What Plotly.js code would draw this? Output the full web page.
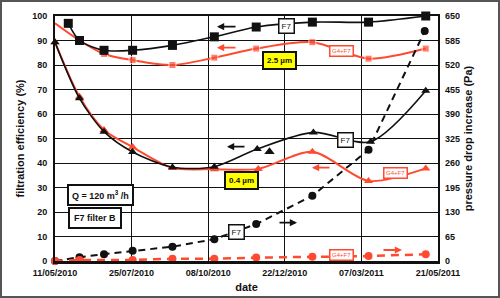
<!DOCTYPE html>
<html>
<head>
<meta charset="utf-8">
<script src="https://cdn.plot.ly/plotly-3.0.1.min.js"></script>
<style>
html,body{margin:0;padding:0;background:#fff;}
#wrap{position:relative;width:500px;height:298px;}
#frame{position:absolute;left:0;top:0;width:496px;height:294px;border:2px solid #555;pointer-events:none;}
</style>
</head>
<body>
<div id="wrap"><div id="chart" style="width:500px;height:298px;"></div><div id="frame"></div></div>
<script>
// ---- data ----
const f7CoarseDates = ['2010-05-24','2010-06-04','2010-06-28','2010-07-26','2010-09-03','2010-10-14','2010-11-24','2011-01-18','2011-03-14','2011-05-09'];
const f7CoarseEff   = [97, 90, 86, 86, 88, 91.5, 95.5, 97.5, 97.5, 100];

const g4CoarseDates = ['2010-05-11','2010-06-04','2010-06-28','2010-07-26','2010-09-03','2010-10-14','2010-11-24','2011-01-18','2011-03-14','2011-05-09'];
const g4CoarseEff   = [97, 90, 84.5, 82, 80, 83, 86.7, 89.3, 82.6, 86.7];

const f7FineDates = ['2010-05-11','2010-06-04','2010-06-28','2010-07-26','2010-09-03','2010-10-14','2010-11-25','2011-01-19','2011-03-16','2011-05-09'];
const f7FineEff   = [89.3, 66.4, 52.8, 44.5, 38.3, 38.5, 45.7, 52.5, 48.7, 69.5];
const f7FineExtraDates = ['2010-12-07'];
const f7FineExtraEff   = [44.6];

const g4FineDates = ['2010-05-11','2010-06-04','2010-06-28','2010-07-26','2010-09-03','2010-10-14','2010-11-26','2011-01-18','2011-03-14','2011-05-09'];
const g4FineEff   = [89.3, 67, 53.5, 46.5, 38, 37.5, 37.6, 44.6, 32.7, 37.8];

const f7DpDates = ['2010-05-11','2010-06-04','2010-06-28','2010-07-26','2010-09-03','2010-10-14','2010-11-24','2011-01-18','2011-03-14','2011-05-08'];
const f7Dp      = [0, 10, 18, 27, 38, 58, 98, 173, 295, 610];

const g4DpDates = ['2010-05-11','2010-06-04','2010-07-26','2010-09-03','2010-10-14','2010-11-24','2011-01-18','2011-03-14','2011-05-09'];
const g4Dp      = [0, 2.6, 2.6, 6, 6, 9, 11, 13, 18];

const xTickStart = '2010-05-11';
const xRange = ['2010-05-11','2011-05-21'];

// ---- style ----
const BLACK = '#111111';
const RED = '#ff4a30';
const FONT = 'Liberation Sans, Arial, sans-serif';

const traces = [
  {x: g4CoarseDates, y: g4CoarseEff, mode:'lines+markers', line:{color:RED,width:2,shape:'spline',smoothing:0.8},
   marker:{symbol:'square',color:RED,size:g4CoarseEff.map((v,i)=>i===0?0:7)}, yaxis:'y', cliponaxis:false},
  {x: f7CoarseDates, y: f7CoarseEff, mode:'lines+markers', line:{color:BLACK,width:1.6,shape:'spline',smoothing:0.8},
   marker:{symbol:'square',color:BLACK,size:9}, yaxis:'y', cliponaxis:false},
  {x: g4FineDates, y: g4FineEff, mode:'lines+markers', line:{color:RED,width:2,shape:'spline',smoothing:0.8},
   marker:{symbol:'triangle-up',color:RED,size:8}, yaxis:'y', cliponaxis:false},
  {x: f7FineDates, y: f7FineEff, mode:'lines+markers', line:{color:BLACK,width:1.6,shape:'spline',smoothing:0.8},
   marker:{symbol:'triangle-up',color:BLACK,size:8}, yaxis:'y', cliponaxis:false},
  {x: f7FineExtraDates, y: f7FineExtraEff, mode:'markers', marker:{symbol:'triangle-up',color:BLACK,size:9}, yaxis:'y'},
  {x: f7DpDates, y: f7Dp, mode:'lines+markers', line:{color:BLACK,width:2,dash:'7px,5px'},
   marker:{symbol:'circle',color:BLACK,size:8}, yaxis:'y2', cliponaxis:false},
  {x: g4DpDates, y: g4Dp, mode:'lines+markers', line:{color:RED,width:2.5,dash:'8px,6px'},
   marker:{symbol:'circle',color:RED,size:8}, yaxis:'y2', cliponaxis:false}
];

// plot area in pixels: x 55..438, y 16..261
const L=55,R=438,T=16,B=261;
const px = x => (x-L)/(R-L);
const py = y => (B-y)/(B-T);

function arrow(x0,x1,y,color){
  return {xref:'paper',yref:'paper',x:px(x1),y:py(y),ax:px(x0),ay:py(y),axref:'paper',ayref:'paper',
    text:' ',showarrow:true,arrowhead:2,arrowsize:0.8,arrowwidth:1.8,arrowcolor:color,font:{size:1}};
}
function box(x,y,text,opts){
  return Object.assign({xref:'paper',yref:'paper',x:px(x),y:py(y),text:text,showarrow:false,
    xanchor:'center',yanchor:'middle',font:{family:FONT,size:8,color:BLACK},
    bgcolor:'#ffffff',bordercolor:BLACK,borderwidth:1.5,borderpad:2},opts||{});
}
const annotations = [
  arrow(237,217,26.7,BLACK),
  arrow(237,217,47.7,RED),
  arrow(246,227,146.7,BLACK),
  arrow(331,312,167.7,RED),
  arrow(278,297,222.7,BLACK),
  arrow(382,402,250,RED),
  box(286,25.5,'F7'),
  box(345.7,140,'F7'),
  box(236.7,232.3,'F7'),
  box(341.7,51,'G4+F7',{font:{family:FONT,size:6,color:RED},bordercolor:RED,borderpad:1.5}),
  box(395,173.3,'G4+F7',{font:{family:FONT,size:6,color:RED},bordercolor:RED,borderpad:1.5}),
  box(341.7,255,'G4+F7',{font:{family:FONT,size:6,color:RED},bordercolor:RED,borderpad:1.5}),
  box(279.3,61,'<b>2.5 µm</b>',{bgcolor:'#ffff00',borderwidth:2,borderpad:3,font:{family:FONT,size:8,color:BLACK}}),
  box(241,180.6,'<b>0.4 µm</b>',{bgcolor:'#ffff00',borderwidth:2,borderpad:3,font:{family:FONT,size:8,color:BLACK}}),
  box(100,194.5,'<b>Q = 120 m<sup>3</sup> /h</b>',{borderwidth:2,borderpad:3,font:{family:FONT,size:9,color:BLACK}}),
  box(95,218,'<b>F7 filter B</b>',{borderwidth:2,borderpad:4,font:{family:FONT,size:9,color:BLACK}})
];

const tickFont = {family:FONT,size:9,color:BLACK,weight:'bold'};
const titleFont = {family:FONT,size:11,color:BLACK};

const layout = {
  width:500,height:298,
  margin:{l:L,r:500-R,t:T,b:298-B,pad:0},
  paper_bgcolor:'#ffffff',plot_bgcolor:'#ffffff',
  showlegend:false,
  font:{family:FONT,color:BLACK},
  xaxis:{type:'date',range:xRange,tick0:xTickStart,dtick:75*86400000,tickformat:'%d/%m/%Y',
    showgrid:true,gridcolor:BLACK,gridwidth:1,showline:true,linecolor:BLACK,linewidth:2.5,mirror:true,
    ticks:'',tickfont:tickFont,ticklabelstandoff:2,zeroline:false,
    title:{text:'<b>date</b>',font:titleFont,standoff:6}},
  yaxis:{range:[0,100],dtick:10,showgrid:true,gridcolor:BLACK,gridwidth:1,showline:true,linecolor:BLACK,linewidth:2,
    mirror:true,ticks:'',tickfont:tickFont,ticklabelstandoff:4,zeroline:false,
    title:{text:'<b>filtration efficiency (%)</b>',font:titleFont,standoff:5}},
  yaxis2:{range:[0,650],dtick:65,overlaying:'y',side:'right',showgrid:false,showline:false,ticks:'',zeroline:false,
    tickfont:tickFont,ticklabelstandoff:6,
    title:{text:'<b>pressure drop increase (Pa)</b>',font:titleFont,standoff:5}},
  annotations:annotations
};

Plotly.newPlot('chart',traces,layout,{staticPlot:true,displayModeBar:false});
</script>
</body>
</html>
